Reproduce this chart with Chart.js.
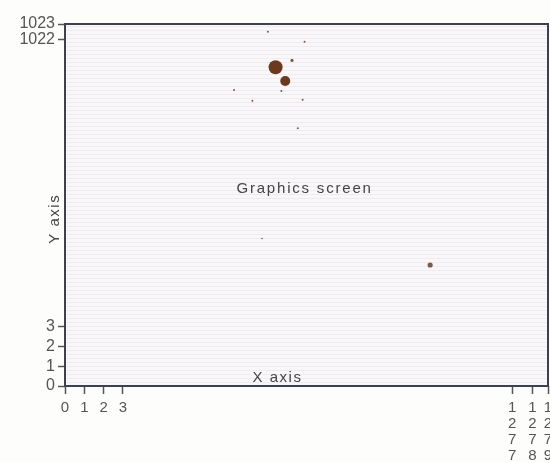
<!DOCTYPE html>
<html><head><meta charset="utf-8">
<script src="https://cdn.jsdelivr.net/npm/chart.js@4"></script>
<style>html,body{margin:0;padding:0;background:#fdfdfc;overflow:hidden;width:550px;height:463px}</style>
</head><body>
<canvas id="c" width="555" height="463"></canvas>
<script>
// tick positions (schematic screen units) and their labels
const xTickValues = [0, 1, 2, 3, 23.15, 24.2, 25];
const xTickLabels = ['0', '1', '2', '3', '1277', '1278', '1279'];
const yTickValues = [0, 1, 2, 3, 17.6, 18.4];
const yTickLabels = ['0', '1', '2', '3', '1022', '1023'];
// lit pixels (ink spots) on the screen
const blobX = [10.9, 11.4];
const blobY = [16.2, 15.5];
const speckX = [11.75, 18.9, 10.5, 12.4, 9.7, 12.3, 12.05, 8.75, 11.2, 10.2];
const speckY = [16.55, 6.15, 18.0, 17.5, 14.5, 14.55, 13.1, 15.05, 15.0, 7.5];
const annotations = { center: 'Graphics screen', xTitle: 'X axis', yTitle: 'Y axis' };

const FONT = '"Liberation Sans", Arial, sans-serif';
const toPts = (xs, ys) => xs.map((x, i) => ({ x, y: ys[i] }));

const screenPlugin = {
  id: 'screen',
  beforeDatasetsDraw(chart) {
    const { ctx, chartArea: a } = chart;
    ctx.save();
    ctx.fillStyle = '#f9f8f9';
    ctx.fillRect(a.left, a.top, a.right - a.left, a.bottom - a.top);
    ctx.strokeStyle = 'rgba(225,200,228,0.3)';
    ctx.lineWidth = 1;
    for (let y = a.top + 2; y < a.bottom; y += 4) {
      ctx.beginPath(); ctx.moveTo(a.left, y + 0.5); ctx.lineTo(a.right, y + 0.5); ctx.stroke();
    }
    ctx.restore();
  },
  afterDraw(chart) {
    const { ctx, chartArea: a } = chart;
    ctx.save();
    ctx.strokeStyle = '#3f3f52';
    ctx.lineWidth = 2;
    ctx.strokeRect(a.left, a.top, a.right - a.left, a.bottom - a.top);
    ctx.fillStyle = '#444';
    ctx.textAlign = 'center';
    ctx.textBaseline = 'middle';
    ctx.font = '15px ' + FONT;
    ctx.letterSpacing = '1.8px';
    const xs = chart.scales.x, ys = chart.scales.y;
    ctx.fillText(annotations.center, xs.getPixelForValue(12.4), ys.getPixelForValue(10.0));
    ctx.letterSpacing = '1.5px';
    ctx.fillText(annotations.xTitle, xs.getPixelForValue(11.0), a.bottom - 8);
    ctx.translate(55, ys.getPixelForValue(8.5));
    ctx.rotate(-Math.PI / 2);
    ctx.fillText(annotations.yTitle, 0, 0);
    ctx.restore();
  }
};

new Chart(document.getElementById('c'), {
  type: 'scatter',
  data: {
    datasets: [
      { data: toPts(blobX, blobY), backgroundColor: '#6b3a1e', borderColor: '#7a4524', pointRadius: [7, 5], borderWidth: 0 },
      { data: toPts(speckX, speckY), backgroundColor: '#7a5a4a', borderWidth: 0, pointRadius: [1.6, 2.6, 1, 1, 1, 1, 1, 1, 1, 0.8] }
    ]
  },
  options: {
    responsive: false,
    animation: false,
    devicePixelRatio: 1,
    layout: { padding: { top: 24, right: 2, left: 0, bottom: 0 } },
    plugins: { legend: { display: false }, tooltip: { enabled: false } },
    scales: {
      x: {
        type: 'linear', min: 0, max: 25,
        afterBuildTicks: s => { s.ticks = xTickValues.map(v => ({ value: v })); },
        afterFit: s => { s.height = 77; s.paddingLeft = 0; s.paddingRight = 0; },
        ticks: {
          autoSkip: false, maxRotation: 0, padding: 6, color: '#555',
          font: { size: 15, family: FONT, lineHeight: 1.07 },
          callback: (v) => { const i = xTickValues.indexOf(v); return i < 0 ? '' : xTickLabels[i].split(''); }
        },
        grid: { drawOnChartArea: false, drawTicks: true, tickLength: 8, color: '#555', tickWidth: 1.5 },
        border: { display: false }
      },
      y: {
        type: 'linear', min: 0, max: 18.4,
        afterBuildTicks: s => { s.ticks = yTickValues.map(v => ({ value: v })); },
        afterFit: s => { s.width = 65; s.paddingTop = 0; s.paddingBottom = 0; },
        ticks: {
          autoSkip: false, padding: 3, color: '#555',
          font: { size: 16, family: FONT },
          callback: (v) => { const i = yTickValues.indexOf(v); return i < 0 ? '' : yTickLabels[i]; }
        },
        grid: { drawOnChartArea: false, drawTicks: true, tickLength: 7, color: '#555', tickWidth: 1.5 },
        border: { display: false }
      }
    }
  },
  plugins: [screenPlugin]
});
</script>
</body></html>
